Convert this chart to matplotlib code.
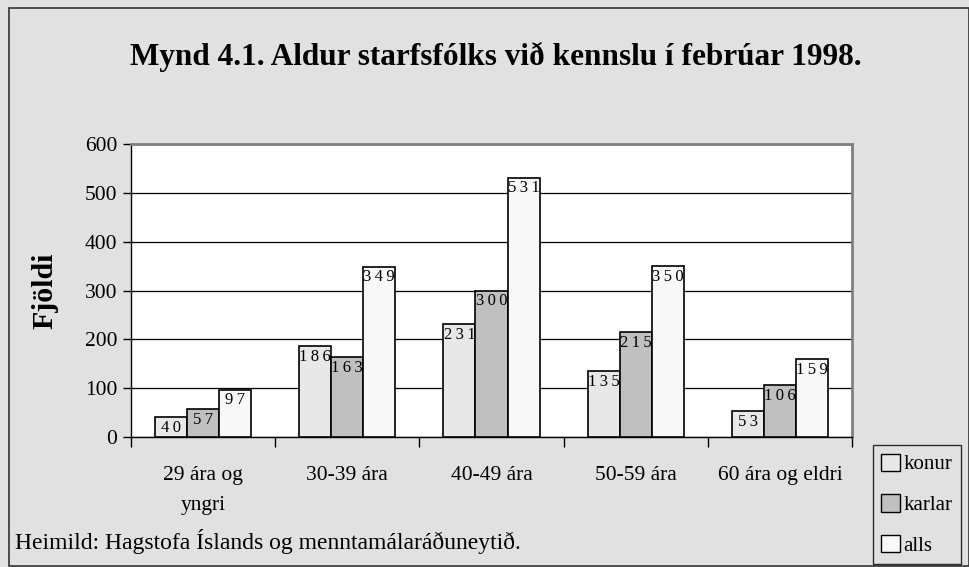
import numpy as np
import matplotlib
matplotlib.use("Agg")
import matplotlib.pyplot as plt
from matplotlib.patches import Patch, Rectangle

# ─── gögn ────────────────────────────────────────────────────────────────
categories = ["29 ára og\nyngri", "30-39 ára", "40-49 ára", "50-59 ára", "60 ára og eldri"]
konur = [40, 186, 231, 135, 53]
karlar = [57, 163, 300, 215, 106]
alls = [97, 349, 531, 350, 159]

series = [("konur", konur, "#e8e8e8"),
          ("karlar", karlar, "#c0c0c0"),
          ("alls", alls, "#f8f8f8")]

plt.rcParams["font.family"] = ["Liberation Serif", "DejaVu Serif"]

BG = "#e1e1e1"
W, H = 970, 567
fig = plt.figure(figsize=(W / 100, H / 100), dpi=100)
fig.patch.set_facecolor(BG)

ax = fig.add_axes([131 / W, 1 - 437 / H, (852 - 131) / W, (437 - 144) / H])
ax.set_facecolor("white")

x = np.arange(len(categories))
bw = 0.222
for i, (name, vals, col) in enumerate(series):
    pos = x + (i - 1) * bw
    bars = ax.bar(pos, vals, width=bw, color=col, edgecolor="black",
                  linewidth=1.2, label=name, zorder=3)
    for b, v in zip(bars, vals):
        # gisin tölustafir eins og í frumriti
        ax.annotate("\u2009".join(str(v)), (b.get_x() + b.get_width() / 2, v),
                    xytext=(0, -2), textcoords="offset points",
                    ha="center", va="top", fontsize=12, zorder=4)

ax.set_xlim(-0.5, len(categories) - 0.5)
ax.set_ylim(0, 600)
ax.set_yticks(range(0, 601, 100))
ax.tick_params(axis="y", labelsize=15.5, length=6, width=1, direction="out", pad=4)
ax.grid(axis="y", color="black", linewidth=0.9, zorder=0)

# kvarðamerki á x-ás á mörkum flokka, merki í miðju
ax.set_xticks(np.arange(-0.5, len(categories)), minor=False)
ax.set_xticklabels([])
ax.tick_params(axis="x", length=7, width=1, direction="out")
for xi, lab in zip(x, categories):
    ax.text(xi, -60, lab, ha="center", va="top", fontsize=15.5,
            linespacing=1.75, transform=ax.transData)

for s in ("left", "bottom"):
    ax.spines[s].set_color("black")
    ax.spines[s].set_linewidth(1.0)
for s in ("top", "right"):
    ax.spines[s].set_color("#808080")
    ax.spines[s].set_linewidth(2.0)

ax.set_ylabel("Fjöldi", fontsize=21.5, fontweight="bold", labelpad=19)

fig.text(496 / W, 1 - 57 / H, "Mynd 4.1. Aldur starfsfólks við kennslu í febrúar 1998.",
         ha="center", va="center", fontsize=22.5, fontweight="bold")
fig.text(15 / W, 1 - 541 / H, "Heimild: Hagstofa Íslands og menntamálaráðuneytið.",
         ha="left", va="center", fontsize=17)

handles = [Patch(facecolor=c, edgecolor="black", linewidth=1.0, label=n)
           for n, _, c in series]
leg = fig.legend(handles=handles, loc="lower left",
                 bbox_to_anchor=(873 / W, 1 - 564 / H), fontsize=15,
                 frameon=True, fancybox=False, handlelength=0.9,
                 handleheight=0.9, handletextpad=0.15, labelspacing=0.95,
                 borderpad=0.4, borderaxespad=0)
leg.get_frame().set_edgecolor("black")
leg.get_frame().set_facecolor(BG)
leg.get_frame().set_linewidth(1.0)

# rammi um alla myndina
fig.patches.append(Rectangle((9 / W, 0.002), (W - 10) / W, 1 - 8 / H - 0.002,
                             transform=fig.transFigure, fill=False,
                             edgecolor="#333333", linewidth=1.2))

fig.savefig("out.png", dpi=100, facecolor=BG)
